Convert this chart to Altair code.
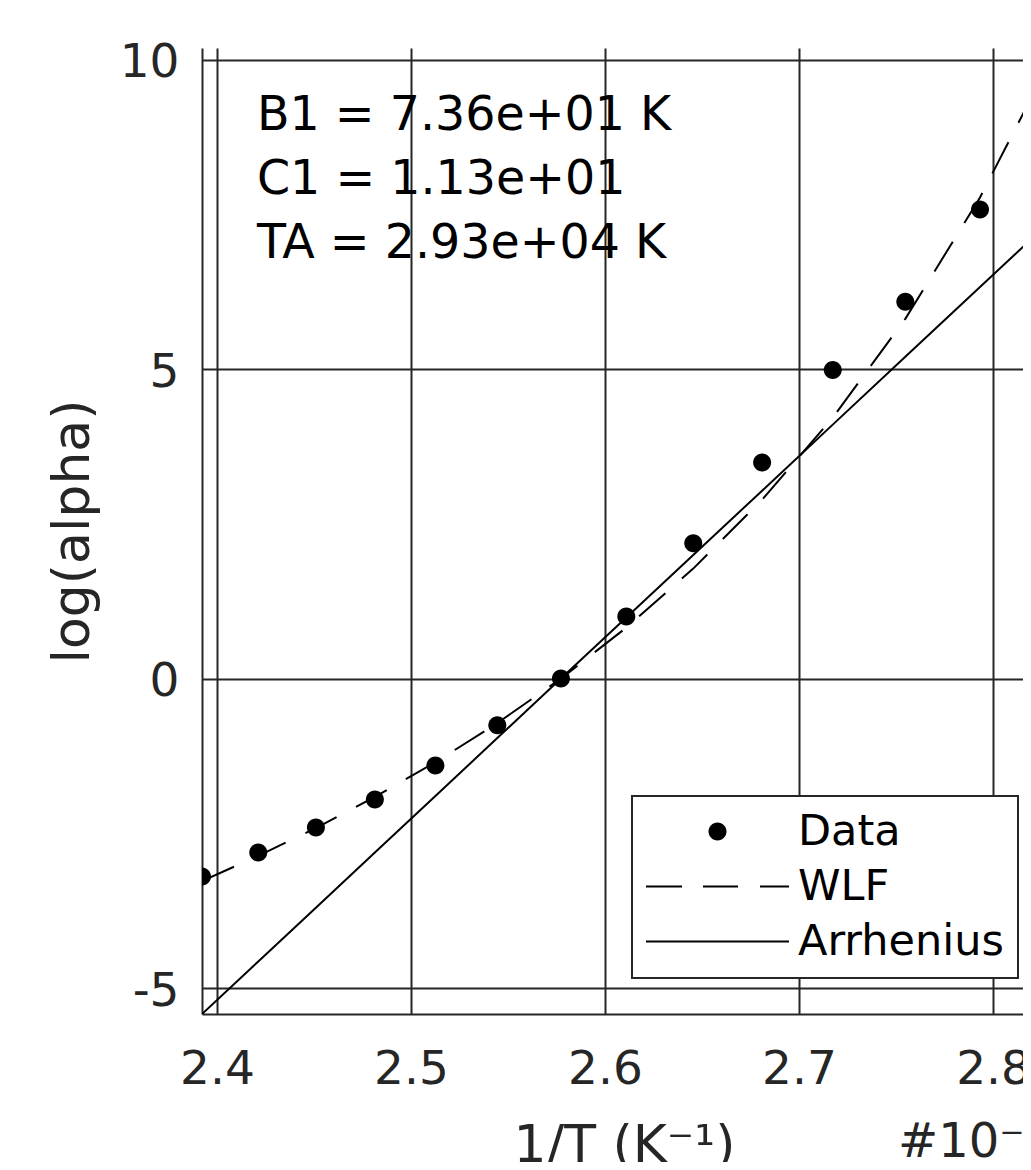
import altair as alt
import pandas as pd

# 1/T values (x 1e-3 K^-1) of the measured points
inv_T = [2.3923, 2.4213, 2.4510, 2.4814, 2.5126, 2.5445, 2.5773,
         2.6110, 2.6455, 2.6810, 2.7174, 2.7548, 2.7933]
log_alpha = [-3.199, -2.811, -2.407, -1.955, -1.406, -0.753, 0.0,
             1.002, 2.188, 3.490, 4.988, 6.091, 7.580]

# fitted curves (evaluated at the same 1/T values plus one further point)
fit_x = [2.3923, 2.4213, 2.4510, 2.4814, 2.5126, 2.5445, 2.5773,
         2.6110, 2.6455, 2.6810, 2.7174, 2.7548, 2.7933, 2.8329]
wlf_y = [-3.272, -2.865, -2.415, -1.913, -1.352, -0.719, 0.0,
         0.824, 1.777, 2.892, 4.216, 5.813, 7.775, 10.19]
arr_y = [-5.420, -4.571, -3.702, -2.811, -1.898, -0.961, 0.0,
         0.986, 1.998, 3.037, 4.104, 5.201, 6.328, 7.487]

series_names = ["Data", "WLF", "Arrhenius"]
x_ticks = [2.4, 2.5, 2.6, 2.7, 2.8]
y_ticks = [-5, 0, 5, 10]

notes = ["B1 = 7.36e+01 K", "C1 = 1.13e+01", "TA = 2.93e+04 K"]
note_x = [2.4206, 2.4206, 2.4206]
note_y = [8.868, 7.830, 6.800]

X_DOM = [2.3923, 2.81546]   # visible part of the axis (figure is cropped)
Y_DOM = [-5.42, 10.19]
FONT = "DejaVu Sans"
GRID = "#262626"

# symbol paths (1 unit = 10 px at size 400)
circle_path = "M-0.9,0A0.9,0.9,0,1,0,0.9,0A0.9,0.9,0,1,0,-0.9,0Z"
dash_path = ("M-7.15,-0.1H-3.55V0.1H-7.15Z"
             "M-1.45,-0.1H2.05V0.1H-1.45Z"
             "M4.25,-0.1H7.15V0.1H4.25Z")
line_path = "M-7.15,-0.1H7.15V0.1H-7.15Z"

pts = pd.DataFrame({"x": inv_T, "y": log_alpha, "series": "Data"})
wlf = pd.DataFrame({"x": fit_x, "y": wlf_y})
arr = pd.DataFrame({"x": fit_x, "y": arr_y})
notes_df = pd.DataFrame({"x": note_x, "y": note_y, "t": notes})
expo_df = pd.DataFrame({"x": [2.7510], "y": [-7.737], "t": ["#10⁻³"]})

xs = alt.Scale(domain=X_DOM, nice=False, zero=False)
ys = alt.Scale(domain=Y_DOM, nice=False, zero=False)

x_axis = alt.Axis(
    values=x_ticks, format=".1f", title="1/T (K⁻¹)",
    labelFont=FONT, labelFontSize=47, labelColor="#262626",
    labelPadding=32, ticks=False, labelFlush=False,
    domainColor=GRID, domainWidth=2, gridColor=GRID, gridWidth=2,
    gridOpacity=1, titleFont=FONT, titleFontSize=52,
    titleFontWeight="normal", titleColor="#262626",
    titleBaseline="alphabetic", titleY=147, titleX=422, titleAlign="center",
)
y_axis = alt.Axis(
    values=y_ticks, title="log(alpha)", labelExpr="'' + datum.value",
    labelFont=FONT, labelFontSize=47, labelColor="#262626",
    labelPadding=23, ticks=False, labelFlush=False, labelOffset=3,
    domainColor=GRID, domainWidth=2, gridColor=GRID, gridWidth=2,
    gridOpacity=1, titleFont=FONT, titleFontSize=52,
    titleFontWeight="normal", titleColor="#262626",
    titleAngle=270, titleBaseline="alphabetic", titleX=-114, titleY=483,
)

base_x = alt.X("x:Q", scale=xs, axis=x_axis)
base_y = alt.Y("y:Q", scale=ys, axis=y_axis)

wlf_line = alt.Chart(wlf).mark_line(
    color="black", strokeWidth=2, strokeDash=[35, 22], clip=True
).encode(x=alt.X("x:Q", scale=xs), y=alt.Y("y:Q", scale=ys))

arr_line = alt.Chart(arr).mark_line(
    color="black", strokeWidth=2, clip=True
).encode(x=alt.X("x:Q", scale=xs), y=alt.Y("y:Q", scale=ys))

points = alt.Chart(pts).mark_point(
    filled=True, color="black", opacity=1, size=400, clip=True
).encode(
    x=base_x, y=base_y,
    shape=alt.Shape(
        "series:N",
        scale=alt.Scale(domain=series_names,
                        range=[circle_path, dash_path, line_path]),
        legend=alt.Legend(
            title=None, orient="none", legendX=430, legendY=748,
            direction="vertical",
            symbolSize=400, symbolFillColor="black", symbolStrokeWidth=0,
            symbolOffset=50,
            labelFont=FONT, labelFontSize=43, labelColor="black",
            labelOffset=59, rowPadding=11, padding=14,
            strokeColor=GRID, fillColor="white",
            cornerRadius=0, labelLimit=400,
        ),
    ),
)

note_text = alt.Chart(notes_df).mark_text(
    font=FONT, fontSize=47.5, color="black", align="left",
    baseline="alphabetic"
).encode(x=alt.X("x:Q", scale=xs), y=alt.Y("y:Q", scale=ys), text="t:N")

expo_text = alt.Chart(expo_df).mark_text(
    font=FONT, fontSize=48, color="#262626", align="left",
    baseline="alphabetic"
).encode(x=alt.X("x:Q", scale=xs), y=alt.Y("y:Q", scale=ys), text="t:N")

chart = alt.layer(wlf_line, arr_line, points, note_text, expo_text).properties(
    width=821, height=966,
    padding={"left": 194, "top": 40, "right": 0, "bottom": 148},
    autosize=alt.AutoSizeParams(type="none"),
    background="white",
).configure_view(stroke=None).configure_legend(strokeWidth=2)

chart.save("out.html", embed_options={"renderer": "svg", "actions": False})
